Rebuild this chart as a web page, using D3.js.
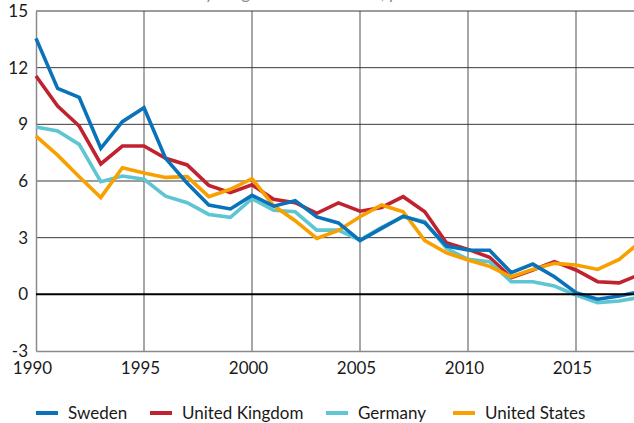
<!DOCTYPE html>
<meta charset="utf-8">
<script src="https://d3js.org/d3.v7.min.js"></script>
<style>
  body { margin: 0; background: #fff; }
  text { font-family: Lato, "Open Sans", sans-serif; }
</style>
<div id="my_dataviz"></div>
<script>

// data
var years = d3.range(1990, 2019);
var sweden = [13.55, 10.9, 10.43, 7.73, 9.14, 9.88, 7.2, 5.88, 4.73, 4.52, 5.24, 4.67, 4.96, 4.1, 3.78, 2.84, 3.49, 4.14, 3.79, 2.56, 2.35, 2.33, 1.15, 1.6, 0.93, 0.09, -0.26, -0.09, 0.15];
var uk = [11.56, 9.97, 8.91, 6.9, 7.85, 7.85, 7.2, 6.85, 5.77, 5.38, 5.8, 5.03, 4.85, 4.29, 4.84, 4.4, 4.6, 5.17, 4.37, 2.73, 2.38, 1.96, 0.88, 1.29, 1.73, 1.29, 0.67, 0.61, 1.07];
var germany = [8.86, 8.65, 7.94, 5.96, 6.26, 6.09, 5.2, 4.85, 4.23, 4.08, 5.06, 4.45, 4.37, 3.4, 3.4, 2.87, 3.55, 4.1, 3.85, 2.43, 1.85, 1.73, 0.67, 0.67, 0.44, -0.04, -0.44, -0.35, -0.15];
var usa = [8.38, 7.37, 6.23, 5.13, 6.7, 6.42, 6.19, 6.23, 5.17, 5.56, 6.12, 4.7, 3.9, 2.96, 3.38, 4.11, 4.73, 4.37, 2.84, 2.2, 1.82, 1.48, 0.93, 1.32, 1.64, 1.55, 1.32, 1.85, 2.8];
var seriesNames = ["Sweden", "United Kingdom", "Germany", "United States"];
var yTicks = [-3, 0, 3, 6, 9, 12, 15];
var xTicks = [1990, 1995, 2000, 2005, 2010, 2015];
var titleText = "Interest rates on ten-year government bonds, per cent";

var colors = {
  "Sweden": "#0a72b9",
  "United Kingdom": "#c0222f",
  "Germany": "#5ec5d2",
  "United States": "#f7a000"
};
var values = {
  "Sweden": sweden,
  "United Kingdom": uk,
  "Germany": germany,
  "United States": usa
};

var W = 634, H = 423;
var plotLeft = 36, plotTop = 11, plotBottom = 351;

var svg = d3.select("#my_dataviz")
  .append("svg")
    .attr("width", W)
    .attr("height", H);

// x runs past the right edge, the picture is cropped there
var x = d3.scaleLinear()
  .domain([1990, 2018])
  .range([plotLeft, plotLeft + 28 * 21.6]);
var y = d3.scaleLinear()
  .domain([-3, 15])
  .range([plotBottom, plotTop]);

// title, mostly cut off at the top
svg.append("text")
  .attr("x", 48)
  .attr("y", -1)
  .style("font-size", "17px")
  .style("fill", "#8c8c8c")
  .text(titleText);

// vertical grid
svg.append("g")
  .selectAll("line")
  .data(xTicks.slice(1))
  .enter()
  .append("line")
    .attr("x1", function(d) { return x(d); })
    .attr("x2", function(d) { return x(d); })
    .attr("y1", plotTop)
    .attr("y2", plotBottom)
    .attr("stroke", "#8a8a8a")
    .attr("stroke-width", 1.5);

// horizontal grid
svg.append("g")
  .selectAll("line")
  .data(yTicks.filter(function(d) { return d != 0 && d != -3; }))
  .enter()
  .append("line")
    .attr("x1", plotLeft)
    .attr("x2", W)
    .attr("y1", function(d) { return y(d); })
    .attr("y2", function(d) { return y(d); })
    .attr("stroke", "#3a3a3a")
    .attr("stroke-width", 1);

// Y axis (plain hyphen for the minus, like the original)
var yAxis = svg.append("g")
  .attr("transform", "translate(" + plotLeft + ",0)")
  .call(d3.axisLeft(y).tickValues(yTicks).tickFormat(function(d) { return String(d); }).tickSize(0).tickPadding(8));
yAxis.select(".domain").attr("stroke", "#8a8a8a").attr("stroke-width", 1.5);
yAxis.selectAll(".tick text")
  .style("font-size", "17px")
  .style("font-family", "Lato, sans-serif")
  .style("fill", "#1a1a1a");

// X axis
var xAxis = svg.append("g")
  .attr("transform", "translate(0," + plotBottom + ")")
  .call(d3.axisBottom(x).tickValues(xTicks).tickFormat(d3.format("d")).tickSize(0).tickPadding(11));
xAxis.select(".domain").attr("stroke", "#8a8a8a").attr("stroke-width", 1.5);
xAxis.selectAll(".tick text")
  .style("font-size", "17px")
  .style("font-family", "Lato, sans-serif")
  .style("fill", "#1a1a1a")
  .attr("dx", "-4");

// lines
var line = d3.line()
  .x(function(d, i) { return x(years[i]); })
  .y(function(d) { return y(d); });

var drawOrder = ["United Kingdom", "Germany", "United States", "Sweden"];
svg.append("g")
  .selectAll("path")
  .data(drawOrder)
  .enter()
  .append("path")
    .attr("d", function(d) { return line(values[d]); })
    .attr("fill", "none")
    .attr("stroke", function(d) { return colors[d]; })
    .attr("stroke-width", 3.6)
    .attr("stroke-linejoin", "miter");

// zero line
svg.append("line")
  .attr("x1", plotLeft)
  .attr("x2", W)
  .attr("y1", y(0))
  .attr("y2", y(0))
  .attr("stroke", "#000")
  .attr("stroke-width", 2);

// legend
var legendX = [36, 150, 326, 453];
var legend = svg.append("g")
  .selectAll("g")
  .data(seriesNames)
  .enter()
  .append("g")
    .attr("transform", function(d, i) { return "translate(" + legendX[i] + ",413)"; });
legend.append("line")
  .attr("x1", 0)
  .attr("x2", 22)
  .attr("stroke", function(d) { return colors[d]; })
  .attr("stroke-width", 4);
legend.append("text")
  .attr("x", 32)
  .attr("dy", "0.35em")
  .style("font-size", "17px")
  .style("fill", "#1a1a1a")
  .text(function(d) { return d; });

</script>
